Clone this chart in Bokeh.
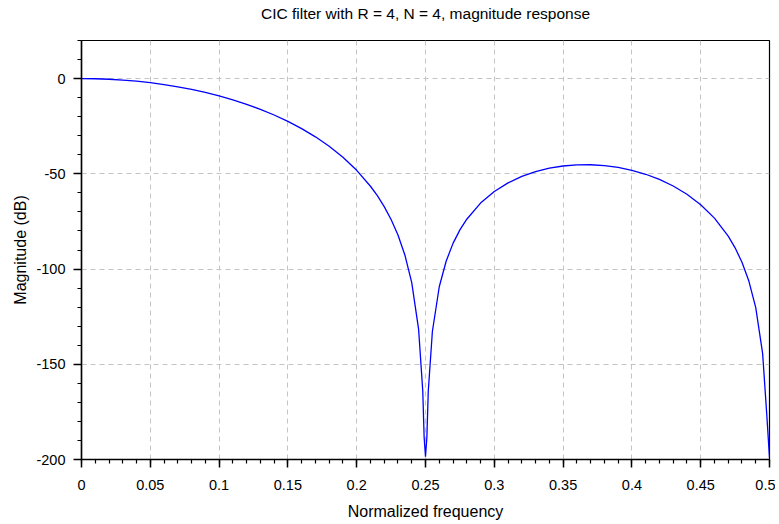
from bokeh.plotting import figure
from bokeh.models import Range1d, FixedTicker, Title, ColumnDataSource
from bokeh.embed import file_html
from bokeh.resources import INLINE

# Normalized frequency samples and magnitude (dB)
freq = [0.0, 0.01, 0.02, 0.03, 0.04, 0.05, 0.06, 0.07, 0.08, 0.09, 0.10,
        0.11, 0.12, 0.13, 0.14, 0.15, 0.16, 0.17, 0.18, 0.19, 0.20,
        0.21, 0.215, 0.22, 0.225, 0.23, 0.235, 0.24, 0.245, 0.248, 0.249, 0.25,
        0.251, 0.252, 0.255, 0.26, 0.265, 0.27, 0.275, 0.28, 0.29, 0.30,
        0.31, 0.32, 0.33, 0.34, 0.35, 0.36, 0.37, 0.38, 0.39, 0.40,
        0.41, 0.42, 0.43, 0.44, 0.45, 0.46, 0.47, 0.475, 0.48, 0.485,
        0.49, 0.495, 0.498, 0.5]
mag_db = [0.0, -0.09, -0.34, -0.78, -1.38, -2.17, -3.15, -4.32, -5.70, -7.29, -9.11,
          -11.18, -13.51, -16.15, -19.12, -22.47, -26.27, -30.58, -35.54, -41.32, -48.16,
          -56.53, -61.5, -67.24, -73.97, -82.15, -92.6, -107.15, -131.7, -163.9, -188.1, -198.5,
          -188.3, -164.3, -132.8, -109.3, -95.9, -86.52, -79.45, -73.83, -65.36, -59.26,
          -54.74, -51.34, -48.83, -47.05, -45.90, -45.31, -45.25, -45.70, -46.67, -48.16,
          -50.23, -52.94, -56.38, -60.71, -66.20, -73.26, -82.73, -88.86, -96.44, -106.3,
          -120.30, -144.3, -176.2, -199.0]

x_ticks = [0, 0.05, 0.1, 0.15, 0.2, 0.25, 0.3, 0.35, 0.4, 0.45, 0.5]
x_labels = ["0", "0.05", "0.1", "0.15", "0.2", "0.25", "0.3", "0.35", "0.4", "0.45", "0.5"]
y_ticks = [-200, -150, -100, -50, 0]
y_labels = ["-200", "-150", "-100", "-50", "0"]
x_minor = [i / 100 for i in range(0, 51)]
y_minor = list(range(-200, 21, 10))
title_text = "CIC filter with R = 4, N = 4, magnitude response"

FONT = "Liberation Sans"
FRAME_W, FRAME_H = 688, 419
LEFT, TOP, RIGHT, BOTTOM = 81, 40, 6, 63

p = figure(width=LEFT + FRAME_W + RIGHT, height=TOP + FRAME_H + BOTTOM,
           output_backend="svg", toolbar_location=None,
           x_range=Range1d(0, 0.5), y_range=Range1d(-200, 20),
           min_border_left=LEFT, min_border_right=RIGHT, min_border_top=TOP,
           min_border_bottom=BOTTOM, title=None)

# trailing blank line lifts the title further above the frame
p.add_layout(Title(text=title_text + "\n ", align="center", text_font=FONT,
                   text_font_size="15.5px", text_font_style="normal",
                   text_line_height=1.0, text_color="#000000",
                   standoff=4), "above")

src = ColumnDataSource(dict(f=freq, m=mag_db))
p.line("f", "m", source=src, line_color="#0000ff", line_width=1.3)

p.xaxis.ticker = FixedTicker(ticks=x_ticks, minor_ticks=x_minor)
p.yaxis.ticker = FixedTicker(ticks=y_ticks, minor_ticks=y_minor)
p.xaxis.major_label_overrides = dict(zip(x_ticks, x_labels))
p.yaxis.major_label_overrides = dict(zip(y_ticks, y_labels))

for ax in (p.xaxis, p.yaxis):
    ax.axis_line_color = "#000000"
    ax.axis_line_width = 1.5
    ax.major_tick_line_color = "#000000"
    ax.major_tick_line_width = 1.5
    ax.minor_tick_line_color = "#000000"
    ax.minor_tick_line_width = 1.2
    ax.major_tick_out = 8
    ax.major_tick_in = 0
    ax.minor_tick_out = 4
    ax.minor_tick_in = 0
    ax.major_label_text_font = FONT
    ax.major_label_text_font_size = "14.5px"
    ax.major_label_text_color = "#000000"
    ax.axis_label_text_font = FONT
    ax.axis_label_text_font_size = "16px"
    ax.axis_label_text_font_style = "normal"
    ax.axis_label_text_color = "#000000"

p.xaxis.axis_label = "Normalized frequency"
p.yaxis.axis_label = "Magnitude (dB)"
p.xaxis.major_label_standoff = 12
p.yaxis.major_label_standoff = 8
p.xaxis.axis_label_standoff = 10
p.yaxis.axis_label_standoff = 4

p.grid.grid_line_color = "#c4c4c4"
p.grid.grid_line_dash = "5 4"
p.grid.grid_line_width = 1

p.outline_line_color = "#000000"
p.outline_line_width = 1.2
p.background_fill_color = "#ffffff"
p.border_fill_color = "#ffffff"

open("out.html", "w").write(file_html(p, INLINE))
